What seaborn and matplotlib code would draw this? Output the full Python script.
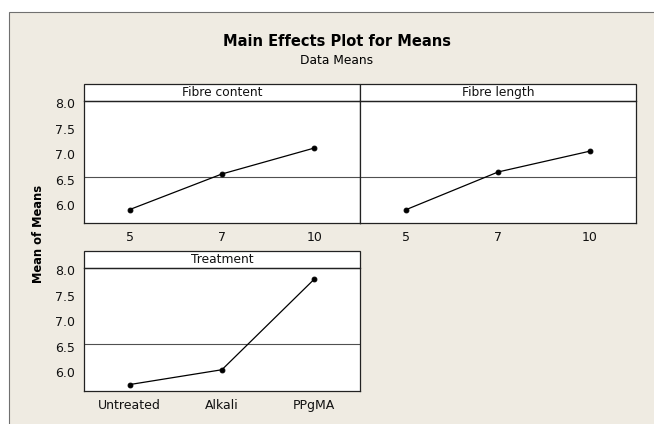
import numpy as np
import matplotlib
matplotlib.use("Agg")
import matplotlib.pyplot as plt
from matplotlib.patches import Rectangle
import seaborn as sns

# data
factors = ["Fibre content", "Fibre length", "Treatment"]
content_levels = ["5", "7", "10"]
content_means = [5.91, 6.61, 7.12]
length_levels = ["5", "7", "10"]
length_means = [5.91, 6.65, 7.06]
treatment_levels = ["Untreated", "Alkali", "PPgMA"]
treatment_means = [5.76, 6.05, 7.82]
y_ticks = [6.0, 6.5, 7.0, 7.5, 8.0]

BG = "#efebe2"
W, H = 654, 424

sns.set_theme(style="white")
plt.rcParams["font.family"] = ["DejaVu Sans"]
plt.rcParams["text.color"] = "black"

fig = plt.figure(figsize=(W / 100, H / 100), dpi=100, facecolor="white")

# beige Minitab frame, kept behind the panels
fig.patches.append(Rectangle((9 / W, -0.05), 1.1, 1.05 - 12 / H,
                             transform=fig.transFigure, facecolor=BG,
                             edgecolor="#707070", linewidth=0.8, zorder=-5))

fig.text(337 / W, 1 - 42 / H, "Main Effects Plot for Means",
         ha="center", va="center", fontsize=10.5, fontweight="bold")
fig.text(337 / W, 1 - 60 / H, "Data Means", ha="center", va="center",
         fontsize=8.8)
fig.text(38 / W, 1 - 234 / H, "Mean of Means", ha="center", va="center",
         rotation=90, fontsize=8.3, fontweight="bold")


def px_box(x0, x1, y0, y1):
    # pixel box (top-left origin) -> figure fraction rect
    return [x0 / W, 1 - y1 / H, (x1 - x0) / W, (y1 - y0) / H]


panels = [
    (factors[0], content_levels, content_means, px_box(83.5, 360.3, 101.3, 223.3), True),
    (factors[1], length_levels, length_means, px_box(360.3, 636, 101.3, 223.3), False),
    (factors[2], treatment_levels, treatment_means, px_box(83.5, 360.3, 268, 390.7), True),
]

grand_mean = np.mean(content_means)
ylim = (5.64, 8.04)

for name, levels, means, rect, show_y in panels:
    ax = fig.add_axes(rect)
    ax.set_facecolor("white")
    sns.pointplot(x=levels, y=means, order=levels, ax=ax, color="black",
                  markers="o", markersize=3.5, linewidth=0.9, errorbar=None)
    ax.axhline(grand_mean, color="#505050", linewidth=0.8, zorder=0)
    ax.set_xlim(-0.5, len(levels) - 0.5)
    ax.set_ylim(*ylim)
    ax.set_xlabel("")
    ax.set_ylabel("")
    ax.set_yticks(y_ticks)
    ax.set_yticklabels([f"{v:.1f}" for v in y_ticks])
    ax.tick_params(axis="both", direction="out", length=3.3, width=0.6,
                   color="#555555", labelsize=9, labelcolor="#111111", pad=2.5)
    ax.tick_params(axis="x", pad=2.5)
    if not show_y:
        ax.tick_params(axis="y", left=False, labelleft=False)
    for sp in ax.spines.values():
        sp.set_color("#222222")
        sp.set_linewidth(0.9)

    # facet strip on top of the panel
    strip_h = 17.5 / (rect[3] * H)
    ax.add_patch(Rectangle((0, 1), 1, strip_h, transform=ax.transAxes,
                           facecolor="white", edgecolor="#222222",
                           linewidth=0.9, clip_on=False))
    ax.text(0.5, 1 + strip_h / 2, name, transform=ax.transAxes,
            ha="center", va="center", fontsize=8.8, color="#111111")

fig.savefig("out.png", dpi=100, facecolor=fig.get_facecolor())
